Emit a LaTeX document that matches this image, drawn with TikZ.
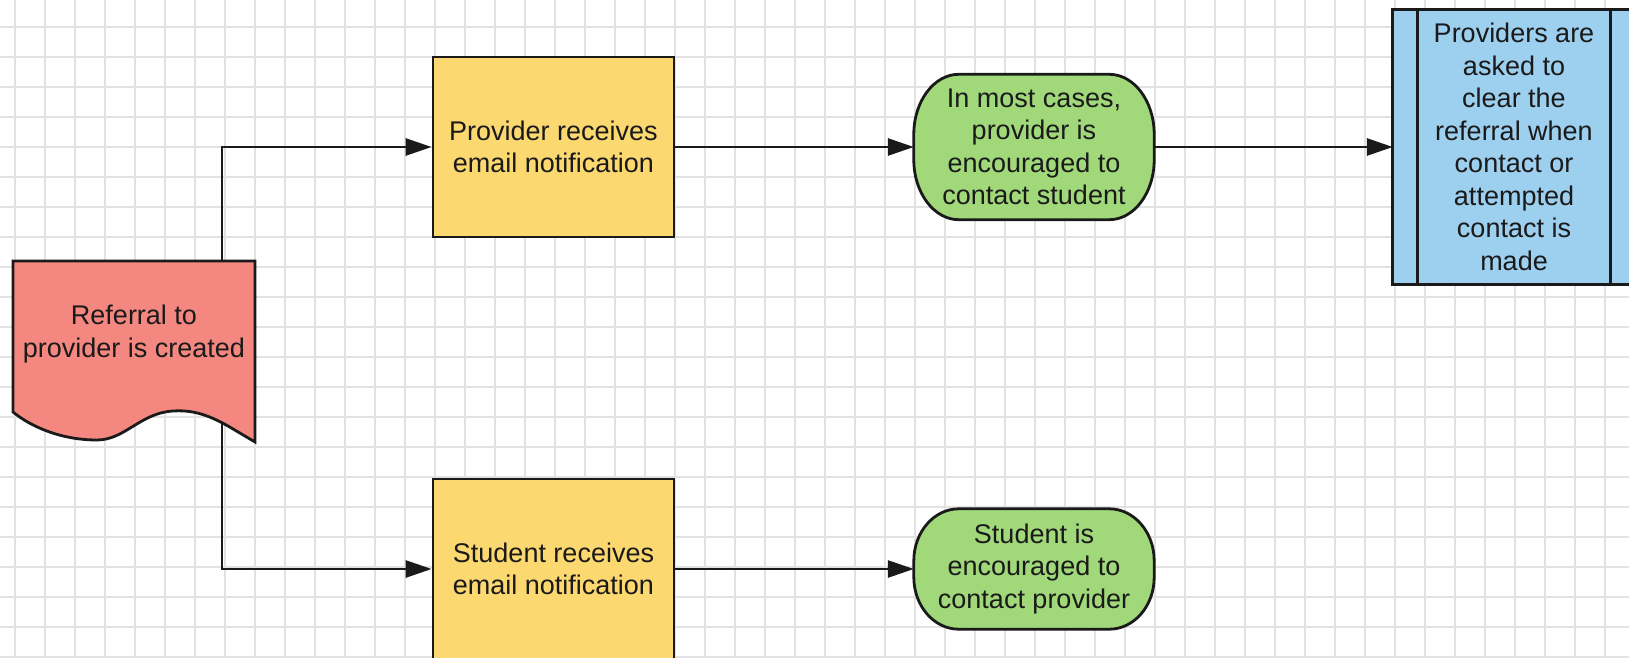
\documentclass[tikz,border=0pt]{standalone}
\usepackage{fontspec}
\setmainfont{Liberation Sans}
\usetikzlibrary{arrows.meta,calc}
\pgfdeclarelayer{gridlayer}
\pgfdeclarelayer{connlayer}
\pgfdeclarelayer{shapelayer}
\pgfsetlayers{gridlayer,connlayer,shapelayer,main}
\definecolor{docred}{HTML}{F4877F}
\definecolor{boxyellow}{HTML}{FCD870}
\definecolor{termgreen}{HTML}{A0D87A}
\definecolor{predblue}{HTML}{9DCFEF}
\definecolor{linec}{HTML}{1A1A1A}
\definecolor{textc}{HTML}{1A1A1A}
\definecolor{gridc}{HTML}{E2E2E2}
\tikzset{
  lbl/.style={align=center, font=\fontsize{27}{32.5}\selectfont, text=textc, inner sep=0pt},
  procbox/.style={lbl, draw=linec, line width=2.8pt, fill=boxyellow,
    minimum width=241pt, minimum height=180pt},
  termnode/.style={lbl, minimum width=240pt},
  shapeline/.style={draw=linec, line width=2.8pt},
  conn/.style={draw=linec, line width=2.8pt, -{Triangle[length=26pt,width=17pt]}},
  gridline/.style={draw=gridc, line width=1.2pt}
}
\newcommand{\termpath}[4]{%
  \path[shapeline, fill=#4]
   ([xshift=-#2pt]#1.north east)
   .. controls ([xshift={-0.448*#2pt}]#1.north east) and ([yshift={-0.448*#3pt}]#1.north east) .. ([yshift=-#3pt]#1.north east)
   -- ([yshift=#3pt]#1.south east)
   .. controls ([yshift={0.448*#3pt}]#1.south east) and ([xshift={-0.448*#2pt}]#1.south east) .. ([xshift=-#2pt]#1.south east)
   -- ([xshift=#2pt]#1.south west)
   .. controls ([xshift={0.448*#2pt}]#1.south west) and ([yshift={0.448*#3pt}]#1.south west) .. ([yshift=#3pt]#1.south west)
   -- ([yshift=-#3pt]#1.north west)
   .. controls ([yshift={-0.448*#3pt}]#1.north west) and ([xshift={0.448*#2pt}]#1.north west) .. ([xshift=#2pt]#1.north west)
   -- cycle;}
\begin{document}
\begin{tikzpicture}[x=1pt,y=-1pt]
\useasboundingbox (0,0) rectangle (1629,658);
\clip (0,0) rectangle (1629,658);
\begin{pgfonlayer}{gridlayer}
  \fill[white] (0,0) rectangle (1629,658);
  \foreach \gx in {15,45,...,1625} \draw[gridline] (\gx,0) -- (\gx,658);
  \foreach \gy in {27,57,...,657} \draw[gridline] (0,\gy) -- (1629,\gy);
\end{pgfonlayer}

% nodes
\node[lbl] (doc) at (134,334) {Referral to\\provider is created};
\coordinate (vx) at (222,0);
\node[procbox] (prov) at (553.5,147) {Provider receives\\email notification};
\node[procbox] (stud) at (553.5,569) {Student receives\\email notification};
\node[termnode, minimum height=145pt] (g1) at (1034,147) {In most cases,\\provider is\\encouraged to\\contact student};
\node[termnode, minimum height=120pt] (g2) at (1034,569) {Student is\\encouraged to\\contact provider};
\node[lbl, minimum width=242pt, minimum height=275pt] (blue) at (1514,147)
  {Providers are\\asked to\\clear the\\referral when\\contact or\\attempted\\contact is\\made};

% shapes
\begin{pgfonlayer}{shapelayer}
  \path[shapeline, fill=docred] (13,261) -- (255,261) -- (255,442) -- (228,426)
    .. controls (205,413) and (190,410) .. (173,411)
    .. controls (140,413) and (125,440) .. (97,440)
    .. controls (60,440) and (30,426) .. (13,412) -- cycle;
  \termpath{g1}{45}{60}{termgreen}
  \termpath{g2}{45}{52}{termgreen}
  \path[shapeline, fill=predblue] (blue.north west) rectangle (blue.south east);
  \draw[shapeline] ([xshift=25pt]blue.north west) -- ([xshift=25pt]blue.south west);
  \draw[shapeline] ([xshift=-25pt]blue.north east) -- ([xshift=-25pt]blue.south east);
\end{pgfonlayer}

% connectors
\begin{pgfonlayer}{connlayer}
  \draw[conn] (doc -| vx) |- (prov.west);
  \draw[conn] (doc -| vx) |- (stud.west);
  \draw[conn] (prov.east) -- (g1.west);
  \draw[conn] (g1.east) -- (blue.west);
  \draw[conn] (stud.east) -- (g2.west);
\end{pgfonlayer}
\end{tikzpicture}
\end{document}
